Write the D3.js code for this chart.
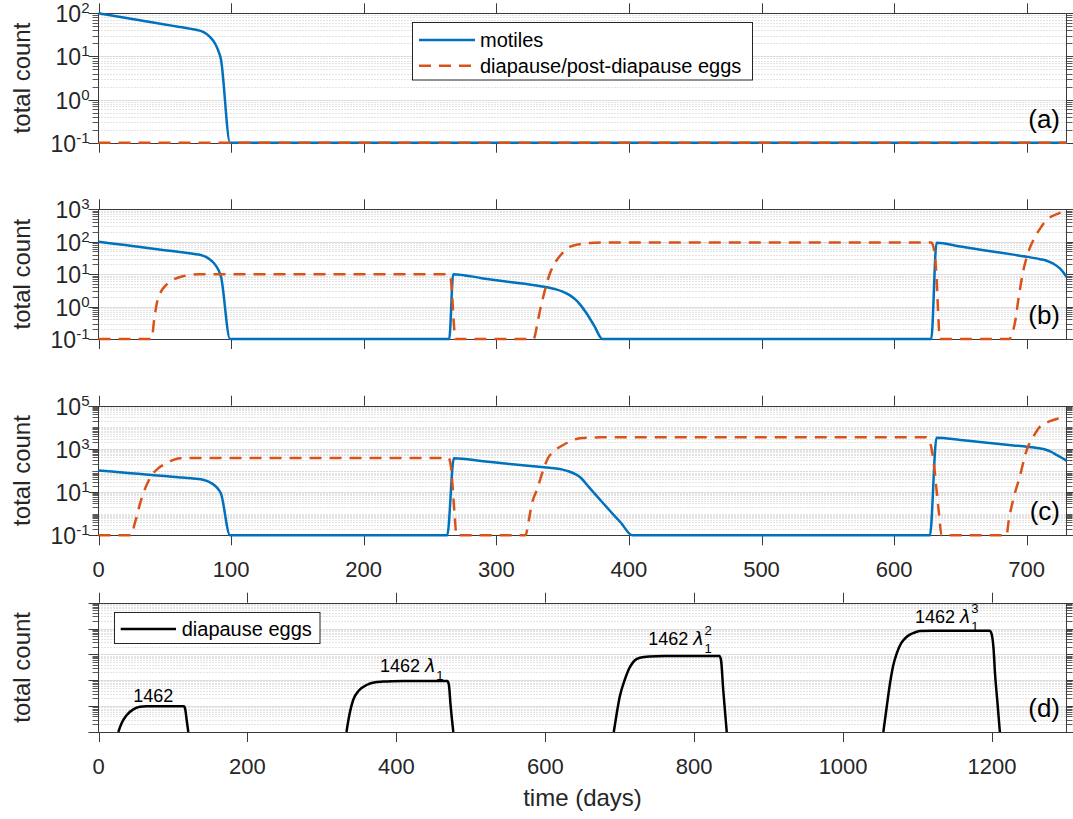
<!DOCTYPE html>
<html><head><meta charset="utf-8">
<script src="https://cdn.jsdelivr.net/npm/d3@7"></script>
<style>
body{margin:0;background:#fff}
svg{display:block;font-family:"Liberation Sans",Arial,Helvetica,sans-serif}
</style>
</head><body>
<svg id="chart" width="1073" height="819"></svg>
<script>
// ---------------- data ----------------
const xTicksABC = [0,100,200,300,400,500,600,700];
const xTicksD = [0,200,400,600,800,1000,1200];
const yExpA = [-1,0,1,2];
const yExpB = [-1,0,1,2,3];
const yExpC = [-1,1,3,5];
const yMajorD = [146.2,1462,14620,146200,1462000,14620000];

const seriesNames = ["motiles","diapause/post-diapause eggs"];
const legendD = ["diapause eggs"];

// panel (a)
const motA_days = [0,10,20,30,40,50,60,70,75,78,81,84,87,89,91,92.2,99.2,730];
const motA_vals = [100,88.8,78.8,70,62,55,49,43.5,40.5,38,34,28.5,22,17,12,9,0.1,0.1];
const eggA_days = [0,730];
const eggA_vals = [0.1,0.1];

// panel (b)
const motB_days = [0,10,20,30,40,50,60,70,75,78,81,84,87,89,91,92.2,99.2,
  264.5,267.5,290,310,330,340,345,350,355,360,364,368,374,380,
  628,632,650,670,690,700,710,715,720,725,730];
const motB_vals = [100,88.8,78.8,70,62,55,49,43.5,40.5,38,34,28.5,22,17,12,9,0.1,
  0.1,10,7.4,5.7,4.5,3.8,3.4,2.9,2.3,1.6,1.05,0.62,0.25,0.1,
  0.1,93,71,53,40,34.5,29,26,21,15,8.3];
const eggB_days = [0,40,42,44,47,50,54,58,64,70,76,
  264,265.5,266.5,267.5,268.5,269,
  328,331,333,336,338,341,345,350,355,360,366,375,385,
  628,630,632,633,634.5,
  687,689,691,694,697,701,705,710,715,721,725,730];
const eggB_vals = [0.1,0.1,0.4,1.26,2.8,4.2,5.9,7.3,8.7,9.6,10,
  10,8,3,0.6,0.15,0.1,
  0.1,0.3,0.78,2.5,5.2,12,25,45,68,80,88,93,95,
  95,60,8,1,0.1,
  0.1,0.15,0.3,2,10.6,45,112,250,467,667,780,900];

// panel (c)
const motC_days = [0,10,20,30,40,50,60,70,75,78,81,84,87,89,91,92.2,99.2,
  263,268,290,310,330,340,345,350,355,360,363,370,378,386,394,402.5,
  627,632,650,670,690,700,708,715,719,722.5,726,730];
const motC_vals = [100,88.8,78.8,70,62,55,49,43.5,40.5,38,34,28.5,22,17,12,9,0.1,
  0.1,367,270,200,152,133,124,110,90,66,50,16.5,4.6,1.3,0.38,0.1,
  0.1,3300,2560,1930,1450,1260,1100,890,700,525,400,285];
const eggC_days = [0,25,27,28.8,31,33.8,38.8,45,51.4,56,61.4,70,
  264,265.5,267,268.5,270,
  322,324.5,326.6,331,335.4,339,343,350.4,356,363,375,390,
  624,626,628,630,632,634,635.7,
  684.7,686.5,689.7,694.7,700,705,710,715,720,725,730];
const eggC_vals = [0.1,0.1,0.3,0.73,2.5,8.8,44,126,215,300,367,375,
  375,200,20,1,0.1,
  0.1,0.5,2.5,15,105,380,740,1510,2300,3100,3400,3450,
  3450,2800,1200,200,12.6,0.8,0.1,
  0.1,0.5,4.3,51,890,3670,10700,16500,21800,26000,29000];

// panel (d)  (0 = no diapause eggs, not drawn on log axis)
const diaD_days = [0,
  26.6,31,38,46.7,55.7,65,75, 114.8,116.5,118.4,120.6, 122,
  331, 333,337,342,350,360,370,382,395,410, 468.5,470.5,473,476.5, 478,
  690, 692,696,700,707,714,720,727,740,760, 833.8,836,839,843.7, 845,
  1052, 1054,1058,1063,1067,1072,1078,1085.5,1095,1103,1120, 1197,1199,1202,1204,1207,1210.5,
  1300];
const diaD_vals = [0,
  146.2,317,664,1100,1390,1450,1462, 1462,1100,425,146.2, 0,
  0, 146.2,700,2523,6000,9600,12000,13000,13500,13700, 13700,10000,1400,146.2, 0,
  0, 146.2,773,3360,16000,49000,85000,109000,122000,127000, 127000,90000,6150,146.2, 0,
  0, 146.2,1040,11200,50000,161000,400000,707000,1.0e6,1.18e6,1.2e6, 1.2e6,1.0e6,2.5e5,27000,2500,146.2,
  0];

const annText = "1462";
const annDays = [46.7, 378.1, 738.3, 1096.5];
const annVals = [2114, 30590, 338000, 2.40e6];
const annPow = [0,1,2,3];

const panelLetters = ["(a)","(b)","(c)","(d)"];

// ---------------- drawing ----------------
const svg = d3.select("#chart");
const L = 98.5, R = 1066.5;
const BLUE = "#0072BD", ORANGE = "#D95319", AX = "#262626", BOX = "#3a3a3a";
const zip = (a,b) => a.map((d,i)=>[d,b[i]]);

function logMinors(domain, majors) {
  const nDec = Math.round(Math.log10(domain[1]) - Math.log10(domain[0]));
  const out = [];
  for (let k = 0; k < nDec; k++) {
    const ds = domain[0] * Math.pow(10, k);
    for (let m = 1; m <= 9; m++) {
      const v = ds * m;
      if (!majors.some(M => Math.abs(Math.log10(M) - Math.log10(v)) < 1e-6)) out.push(v);
    }
  }
  return out;
}

let clipId = 0;
function panel(o) {
  const g = svg.append("g");
  const x = d3.scaleLinear().domain(o.xDomain).range([L, R]);
  const y = d3.scaleLog().domain(o.yDomain).range([o.bottom, o.top]);
  const minors = logMinors(o.yDomain, o.majors);
  const py = v => Math.round(y(v)) + 0.5;

  // minor grid
  g.append("g").selectAll("line").data(minors).join("line")
    .attr("x1", L).attr("x2", R).attr("y1", py).attr("y2", py)
    .attr("stroke", "#c8c8c8").attr("stroke-width", 1).attr("stroke-dasharray", "1,2");
  // major grid
  g.append("g").selectAll("line").data(o.majors).join("line")
    .attr("x1", L).attr("x2", R).attr("y1", py).attr("y2", py)
    .attr("stroke", "#dedede").attr("stroke-width", 1);

  // ticks y (left and right, outward)
  const tk = g.append("g").attr("stroke", BOX).attr("stroke-width", 1);
  tk.selectAll(".ml").data(minors).join("line")
    .attr("x1", L - 6).attr("x2", L).attr("y1", py).attr("y2", py).attr("stroke", "#5a5a5a");
  tk.selectAll(".mr").data(minors).join("line")
    .attr("x1", R).attr("x2", R + 6).attr("y1", py).attr("y2", py).attr("stroke", "#5a5a5a");
  tk.selectAll(".Ml").data(o.majors).join("line")
    .attr("x1", L - 10).attr("x2", L).attr("y1", py).attr("y2", py);
  tk.selectAll(".Mr").data(o.majors).join("line")
    .attr("x1", R).attr("x2", R + 10).attr("y1", py).attr("y2", py);
  // ticks x (top and bottom, outward)
  const px = v => Math.round(x(v)) + 0.5;
  tk.selectAll(".xt").data(o.xTicks).join("line")
    .attr("x1", px).attr("x2", px).attr("y1", o.top - 10).attr("y2", o.top);
  tk.selectAll(".xb").data(o.xTicks).join("line")
    .attr("x1", px).attr("x2", px).attr("y1", o.bottom).attr("y2", o.bottom + 10);

  // box
  g.append("rect").attr("x", L).attr("y", Math.round(o.top) + 0.5)
    .attr("width", R - L).attr("height", Math.round(o.bottom) - Math.round(o.top))
    .attr("fill", "none").attr("stroke", BOX).attr("stroke-width", 1);

  // y tick labels
  if (o.yLabels) {
    o.yLabels.forEach(e => {
      const t = g.append("text").attr("x", L - 9).attr("y", y(Math.pow(10, e)) + 9)
        .attr("text-anchor", "end").attr("fill", AX).attr("font-size", 23);
      t.append("tspan").text("10");
      t.append("tspan").text(String(e)).attr("font-size", 15).attr("dy", -9);
    });
  }
  // x tick labels
  if (o.xLabels) {
    g.append("g").selectAll("text").data(o.xTicks).join("text")
      .attr("x", d => x(d)).attr("y", o.bottom + 42).attr("text-anchor", "middle")
      .attr("fill", AX).attr("font-size", 22).text(d => d);
  }
  // y axis title
  g.append("text").attr("transform", `translate(30,${(o.top + o.bottom) / 2}) rotate(-90)`)
    .attr("text-anchor", "middle").attr("fill", AX).attr("font-size", 24).text("total count");

  // clip
  const id = "clip" + (clipId++);
  g.append("clipPath").attr("id", id).append("rect")
    .attr("x", L - 3).attr("y", o.top - 3).attr("width", R - L + 6).attr("height", o.bottom - o.top + 6);
  const plot = g.append("g").attr("clip-path", `url(#${id})`);
  const line = d3.line().defined(d => d[1] > 0).x(d => x(d[0])).y(d => y(d[1])).curve(d3.curveMonotoneX);
  o.series.forEach(s => {
    plot.append("path").attr("d", line(s.data)).attr("fill", "none")
      .attr("stroke", s.color).attr("stroke-width", 2.5)
      .attr("stroke-dasharray", s.dash || null).attr("stroke-linejoin", "round");
  });

  // panel letter
  g.append("text").attr("x", 1060).attr("y", o.bottom - 15).attr("text-anchor", "end")
    .attr("fill", "#000").attr("font-size", 26).text(o.letter);
  return {g, x, y};
}

const pa = panel({top: 13.3, bottom: 142.7, xDomain: [0, 730], yDomain: [0.1, 100],
  majors: yExpA.map(e => Math.pow(10, e)), yLabels: yExpA, xTicks: xTicksABC, xLabels: false,
  letter: panelLetters[0],
  series: [{data: zip(motA_days, motA_vals), color: BLUE},
           {data: zip(eggA_days, eggA_vals), color: ORANGE, dash: "12,8"}]});

const pb = panel({top: 209.3, bottom: 339, xDomain: [0, 730], yDomain: [0.1, 1000],
  majors: yExpB.map(e => Math.pow(10, e)), yLabels: yExpB, xTicks: xTicksABC, xLabels: false,
  letter: panelLetters[1],
  series: [{data: zip(motB_days, motB_vals), color: BLUE},
           {data: zip(eggB_days, eggB_vals), color: ORANGE, dash: "12,8"}]});

const pc = panel({top: 405.7, bottom: 535.3, xDomain: [0, 730], yDomain: [0.1, 1e5],
  majors: yExpC.map(e => Math.pow(10, e)), yLabels: yExpC, xTicks: xTicksABC, xLabels: true,
  letter: panelLetters[2],
  series: [{data: zip(motC_days, motC_vals), color: BLUE},
           {data: zip(eggC_days, eggC_vals), color: ORANGE, dash: "12,8"}]});

const pd = panel({top: 602.7, bottom: 732, xDomain: [0, 1300], yDomain: [yMajorD[0], yMajorD[yMajorD.length - 1]],
  majors: yMajorD, yLabels: null, xTicks: xTicksD, xLabels: true,
  letter: panelLetters[3],
  series: [{data: zip(diaD_days, diaD_vals), color: "#000"}]});

// legend (a)
(function () {
  const g = pa.g.append("g");
  g.append("rect").attr("x", 412.5).attr("y", 22.5).attr("width", 340).attr("height", 57.5)
    .attr("fill", "#fff").attr("stroke", AX).attr("stroke-width", 1);
  const rows = [{c: BLUE, dash: null, y: 40}, {c: ORANGE, dash: "12,8", y: 65.7}];
  rows.forEach((r, i) => {
    g.append("line").attr("x1", 419).attr("x2", 475).attr("y1", r.y).attr("y2", r.y)
      .attr("stroke", r.c).attr("stroke-width", 2.5).attr("stroke-dasharray", r.dash);
    g.append("text").attr("x", 480).attr("y", r.y + 7).attr("font-size", 20).attr("fill", "#000")
      .text(seriesNames[i]);
  });
})();

// legend (d)
(function () {
  const g = pd.g.append("g");
  g.append("rect").attr("x", 114.5).attr("y", 612.5).attr("width", 205.5).attr("height", 31)
    .attr("fill", "#fff").attr("stroke", AX).attr("stroke-width", 1);
  g.append("line").attr("x1", 120.7).attr("x2", 176).attr("y1", 629).attr("y2", 629)
    .attr("stroke", "#000").attr("stroke-width", 2.5);
  g.append("text").attr("x", 181.7).attr("y", 636).attr("font-size", 20).attr("fill", "#000").text(legendD[0]);
})();

// annotations (d)
annDays.forEach((d, i) => {
  const xx = pd.x(d), yy = pd.y(annVals[i]);
  const t = pd.g.append("text").attr("x", xx).attr("y", yy).attr("font-size", 18).attr("fill", "#000");
  t.append("tspan").text(annText);
  const p = annPow[i];
  if (p > 0) {
    t.append("tspan").text(" ");
    t.append("tspan").text("λ").attr("font-style", "italic").attr("font-family", "'DejaVu Sans',sans-serif");
    const len = t.node().getComputedTextLength();
    pd.g.append("text").attr("x", xx + len + 0.5).attr("y", yy + 8).attr("font-size", 13).attr("fill", "#000").text("1");
    if (p > 1) {
      pd.g.append("text").attr("x", xx + len + 0.5).attr("y", yy - 10).attr("font-size", 13).attr("fill", "#000").text(String(p));
    }
  }
});

// x axis title
svg.append("text").attr("x", (L + R) / 2).attr("y", 806).attr("text-anchor", "middle")
  .attr("font-size", 24).attr("fill", AX).text("time (days)");
</script>
</body></html>
